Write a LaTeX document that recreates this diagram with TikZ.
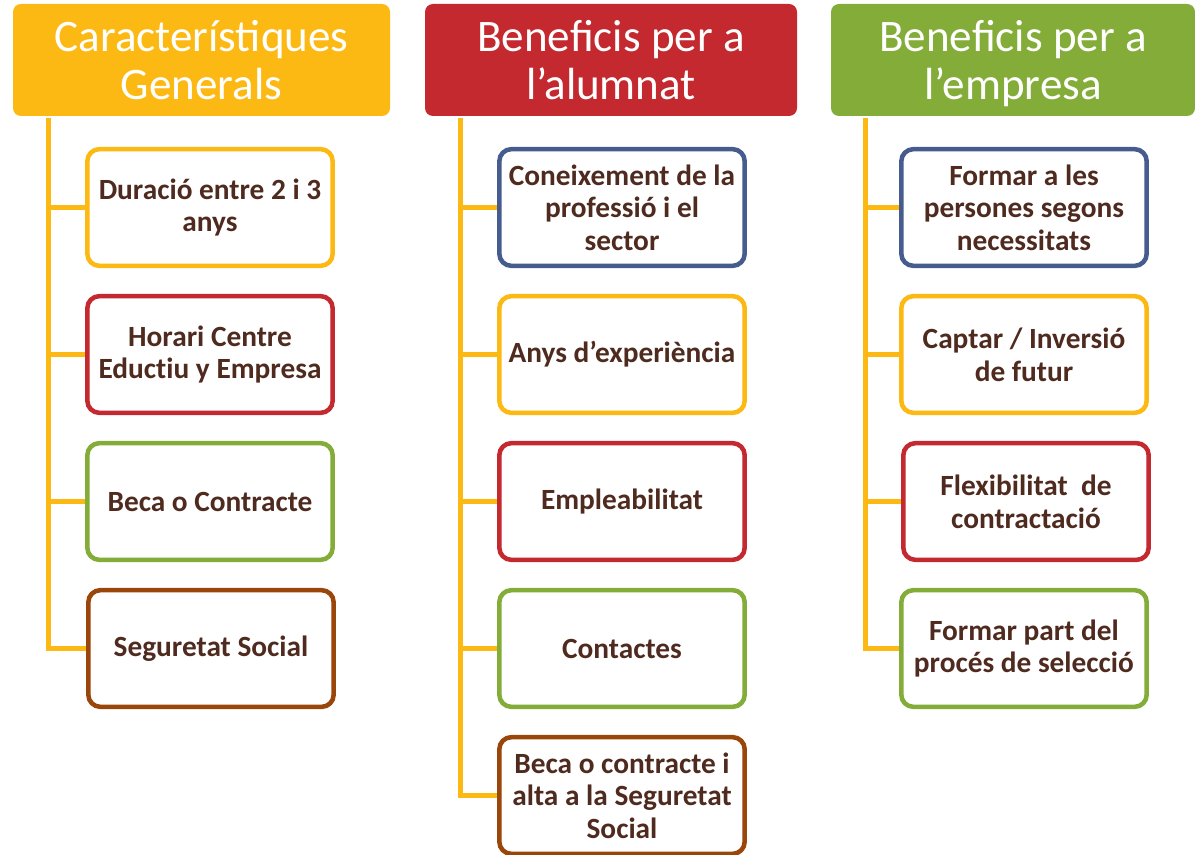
\documentclass[tikz,border=0pt]{standalone}
\usepackage{fontspec}
\setmainfont{Carlito}
\definecolor{gold}{HTML}{FDB913}
\definecolor{cred}{HTML}{C3292E}
\definecolor{cgreen}{HTML}{84AC39}
\definecolor{cblue}{HTML}{465C8F}
\definecolor{cbrown}{HTML}{9A4509}
\definecolor{txt}{HTML}{4F2A1F}

\begin{document}
\begin{tikzpicture}[x=0.75pt,y=-0.75pt,link/.style={draw=gold,line width=3.75pt}]
    \tikzset{head/.style={rectangle,rounded corners=6pt,fill=#1,text=white,align=center,
        font=\fontsize{33.8}{36}\selectfont,minimum height=84pt,inner sep=0pt}}
    \tikzset{item/.style={rectangle,rounded corners=9pt,draw=#1,line width=3.4pt,fill=white,
        text=txt,align=center,font=\fontsize{22}{24.5}\selectfont\bfseries\addfontfeatures{RawFeature=-liga},
        minimum width=184pt,minimum height=87.5pt,inner sep=0pt}}
    \useasboundingbox (0,0) rectangle (1195,855);

    % headers
    \node [head=gold,minimum width=282.75pt] (gen) at (201.5,60) {Característiques\\Generals};
    \node [head=cred,minimum width=279pt] (alu) at (611,60) {Beneficis per a\\l’alumnat};
    \node [head=cgreen,minimum width=273pt,text depth=0pt] (emp) at (1013,60) {Beneficis per a\\l’empresa};

    % Característiques Generals
    \node [item=gold] (g1) at (210,207.5) {Duració entre 2 i 3\\anys};
    \node [item=cred] (g2) at (210,354.5) {Horari Centre\\Eductiu y Empresa};
    \node [item=cgreen] (g3) at (210,501.5) {Beca o Contracte};
    \node [item=cbrown] (g4) at (211,648.5) {Seguretat Social};

    % Beneficis per a l'alumnat
    \node [item=cblue] (a1) at (622,207.5) {Coneixement de la\\professió i el\\sector};
    \node [item=gold] (a2) at (622,354.5) {Anys d’experiència};
    \node [item=cred] (a3) at (622,501.5) {Empleabilitat};
    \node [item=cgreen] (a4) at (622,648.5) {Contactes};
    \node [item=cbrown] (a5) at (622,795.5) {Beca o contracte i\\alta a la Seguretat\\Social};

    % Beneficis per a l'empresa
    \node [item=cblue] (e1) at (1024,207.5) {Formar a les\\persones segons\\necessitats};
    \node [item=gold] (e2) at (1024,354.5) {Captar / Inversió\\de futur};
    \node [item=cred] (e3) at (1026,501.5) {Flexibilitat\ \ de\\contractació};
    \node [item=cgreen] (e4) at (1024,648.5) {Formar part del\\procés de selecció};

    % spines
    \coordinate (sg) at (48,118);
    \coordinate (sa) at (460,118);
    \coordinate (se) at (865,118);
    \draw [link] (sg) |- (g4.west);
    \draw [link] (sa) |- (a5.west);
    \draw [link] (se) |- (e4.west);
    \foreach \n in {g1,g2,g3} \draw [link] (\n.west) -- (\n.west -| sg);
    \foreach \n in {a1,a2,a3,a4} \draw [link] (\n.west) -- (\n.west -| sa);
    \foreach \n in {e1,e2,e3} \draw [link] (\n.west) -- (\n.west -| se);

\end{tikzpicture}
\end{document}
